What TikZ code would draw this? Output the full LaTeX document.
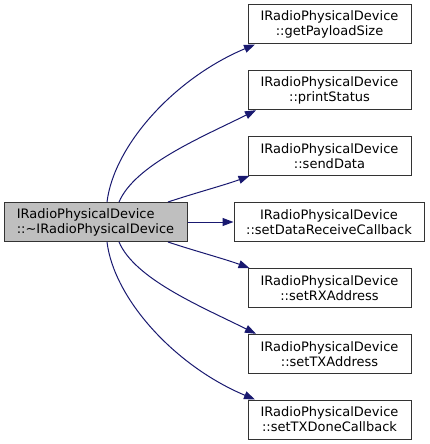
\documentclass[tikz,border=0pt]{standalone}
\usepackage{fontspec}
\setmainfont{DejaVu Sans}
\usetikzlibrary{arrows.meta}
\definecolor{edgeblue}{HTML}{191970}
\definecolor{maingray}{HTML}{BFBFBF}
\begin{document}
\begin{tikzpicture}[x=1pt,y=-1pt,
  fn/.style={draw=black!80,line width=1pt,rectangle,minimum width=163pt,minimum height=39pt,inner sep=0pt,align=center,font=\fontsize{13}{15}\selectfont},
  mainfn/.style={fn,fill=maingray,minimum width=183pt,align=left},
  call/.style={draw=edgeblue,line width=1pt,-{Triangle[length=11pt,width=8pt]}}]
\useasboundingbox (0,0) rectangle (429,444);
\node[mainfn] (m) at (95.5,222) {IRadioPhysicalDevice\\::\textasciitilde IRadioPhysicalDevice};
\node[fn] (g) at (329.5,24.5) {IRadioPhysicalDevice\\::getPayloadSize};
\node[fn] (p) at (329.5,90.2) {IRadioPhysicalDevice\\::printStatus};
\node[fn] (s) at (329.5,155.9) {IRadioPhysicalDevice\\::sendData};
\node[fn,minimum width=190pt] (d) at (329,222) {IRadioPhysicalDevice\\::setDataReceiveCallback};
\node[fn] (rx) at (329.5,288.1) {IRadioPhysicalDevice\\::setRXAddress};
\node[fn] (tx) at (329.5,353.8) {IRadioPhysicalDevice\\::setTXAddress};
\node[fn] (td) at (329.5,419.5) {IRadioPhysicalDevice\\::setTXDoneCallback};
% upper edges
\draw[call] ([xshift=11.5pt]m.north) .. controls (114,145) and (175,78) .. ([xshift=-74.5pt]g.south);
\draw[call] ([xshift=23.5pt]m.north) .. controls (135,165) and (200,138) .. ([xshift=-73.5pt]p.south);
\draw[call] ([xshift=72.5pt]m.north) .. controls (195,193) and (225,185) .. ([xshift=2pt]s.south west);
\draw[call] (m.east) -- (d.west);
% lower edges
\draw[call] ([xshift=72.5pt]m.south) .. controls (195,251) and (225,259) .. ([xshift=2pt]rx.north west);
\draw[call] ([xshift=23.5pt]m.south) .. controls (135,279) and (200,306) .. ([xshift=8.5pt]tx.north west);
\draw[call] ([xshift=11.5pt]m.south) .. controls (114,299) and (175,366) .. ([xshift=7.5pt]td.north west);
\end{tikzpicture}
\end{document}
